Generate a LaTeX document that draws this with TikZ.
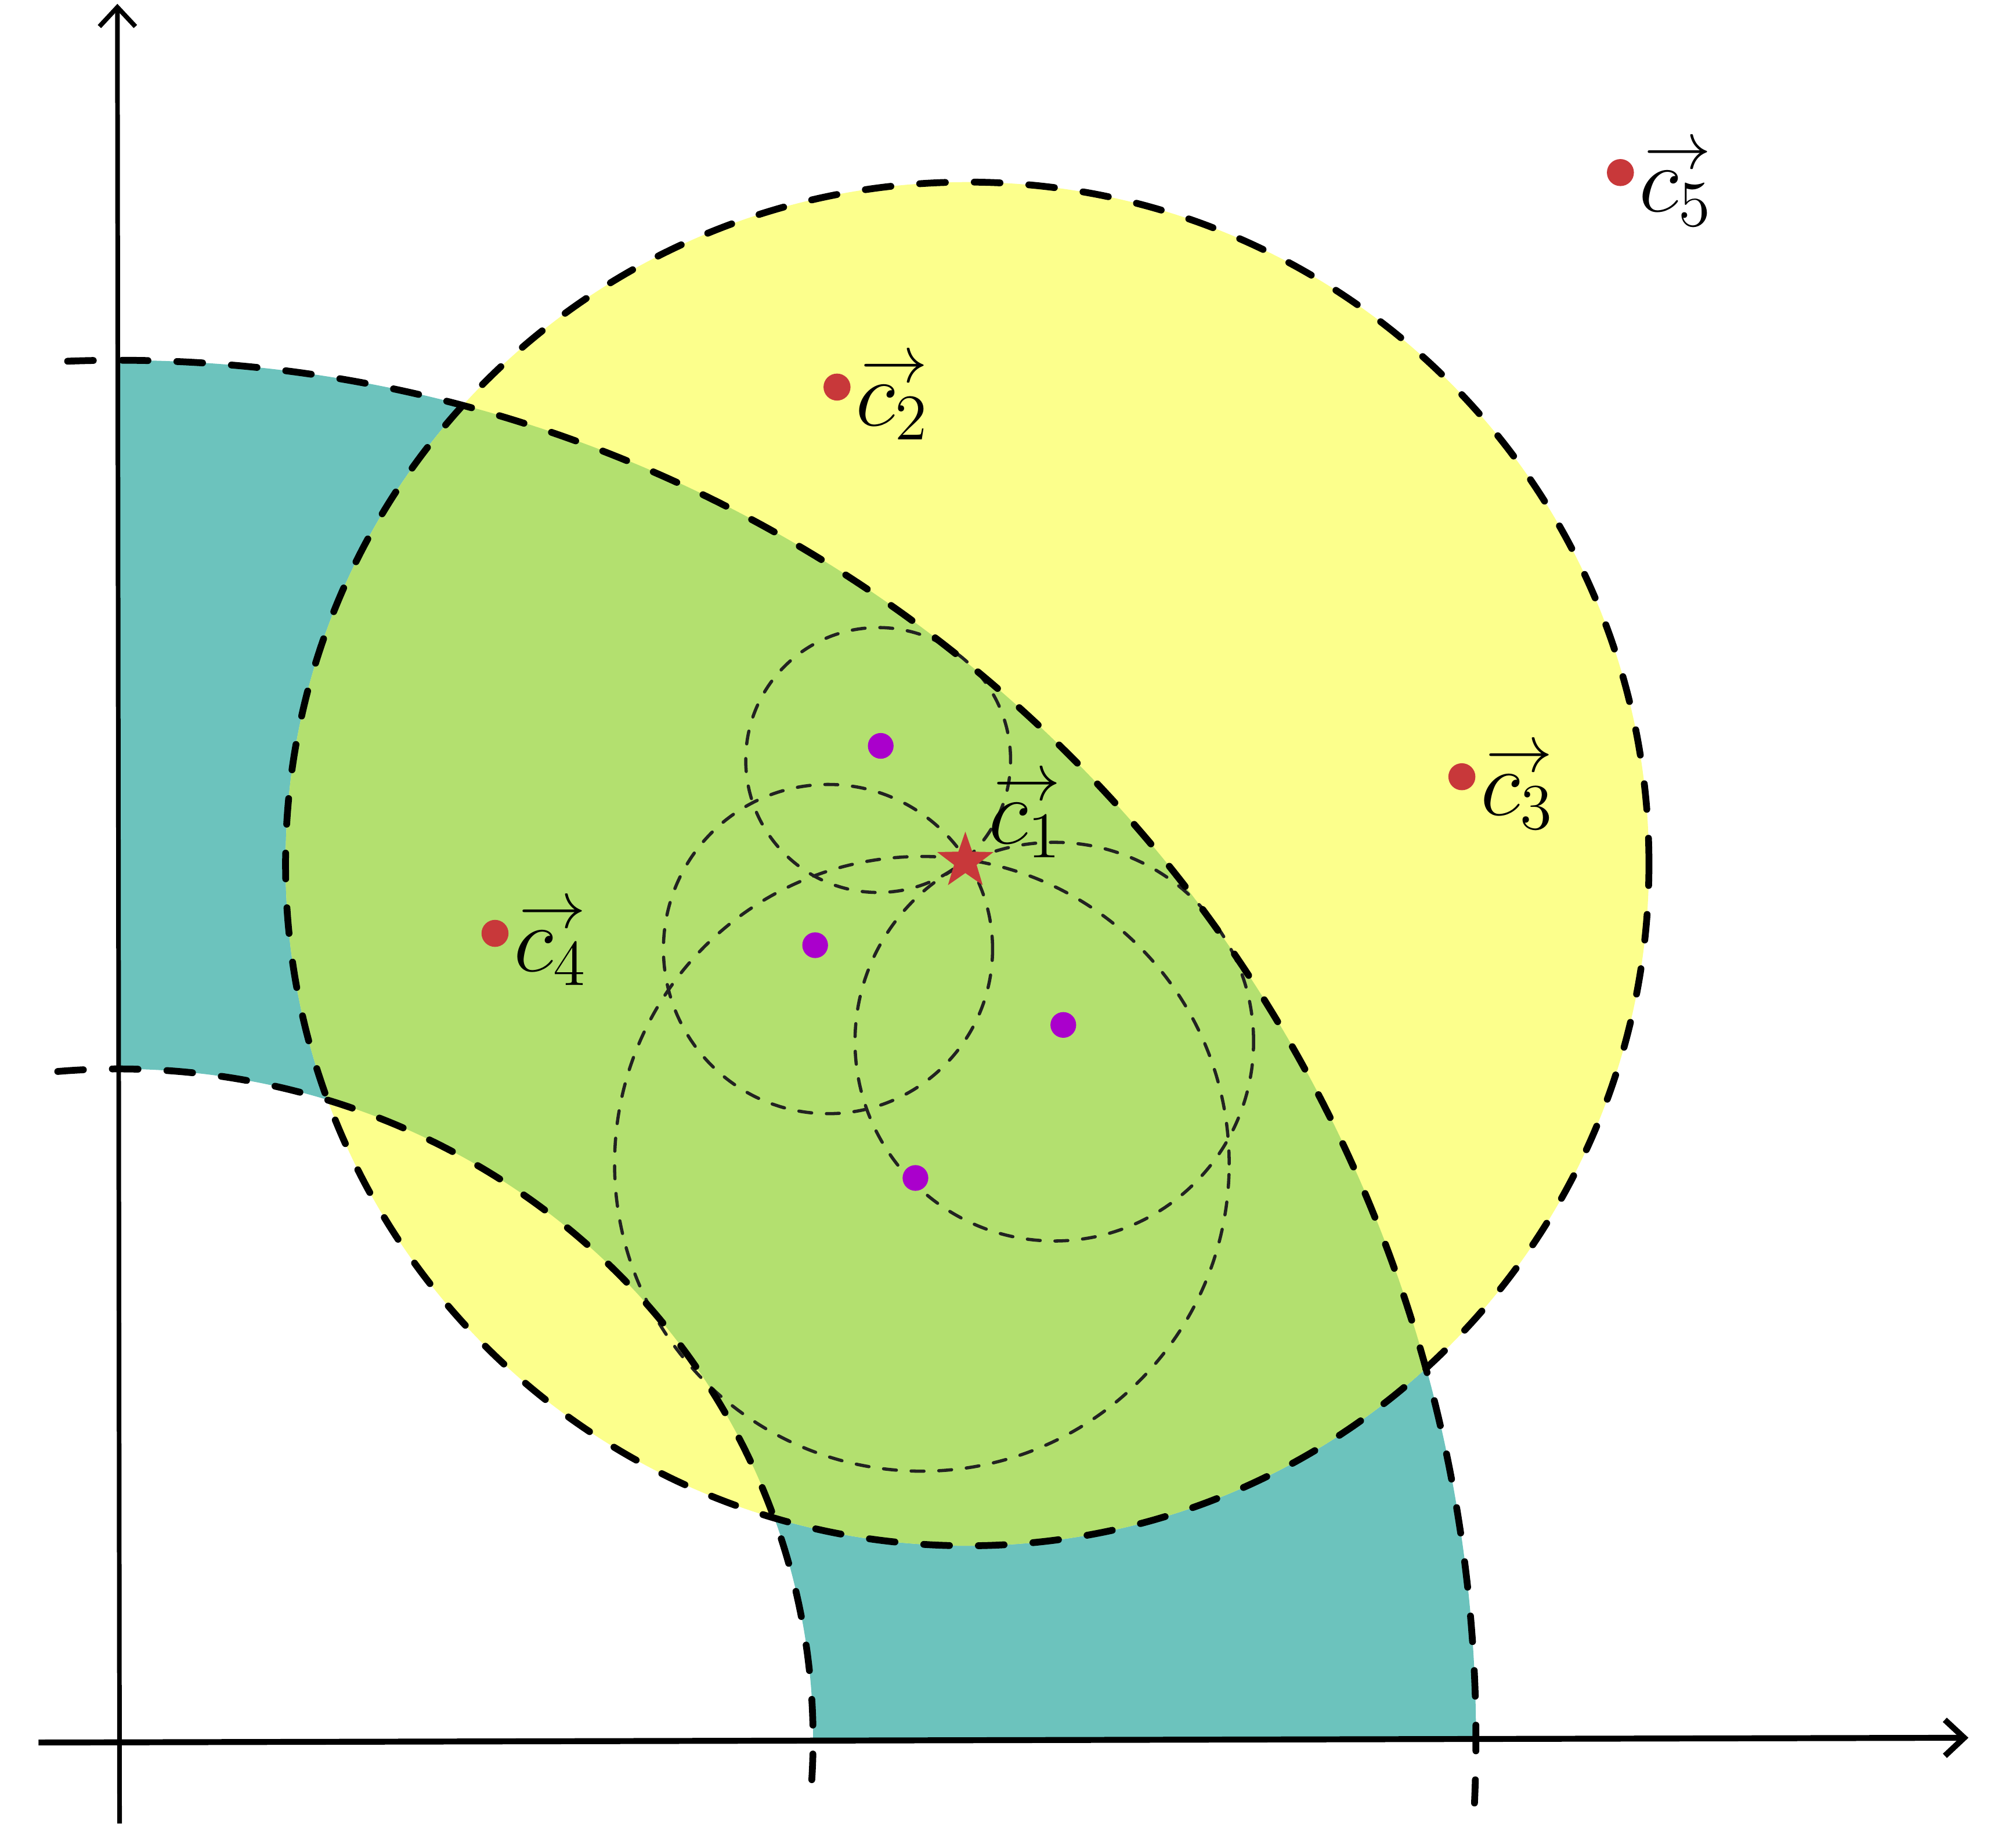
\documentclass[tikz,border=0pt]{standalone}
\usepackage{graphicx}
\usetikzlibrary{arrows.meta,shapes.geometric,calc}
\definecolor{tealc}{RGB}{108,195,189}
\definecolor{yelc}{RGB}{252,255,140}
\definecolor{grnc}{RGB}{179,224,111}
\definecolor{dotred}{RGB}{200,56,58}
\definecolor{dotpurple}{RGB}{170,0,204}
\definecolor{dgray}{RGB}{34,34,34}
\newcommand\cvec[1]{\rlap{\kern1.1pt\raisebox{9.6pt}{\resizebox{0.52cm}{!}{$\rightarrow$}}}$c_{#1}$}
\begin{document}
\begin{tikzpicture}[
  thickdash/.style={line width=0.053cm, line cap=round, dash pattern=on 0.2cm off 0.225cm},
  thindash/.style={draw=dgray, line width=0.025cm, line cap=round, dash pattern=on 0.1cm off 0.115cm},
  reddot/.style={circle, fill=dotred, inner sep=0pt, minimum size=0.21cm},
  purpledot/.style={circle, fill=dotpurple, inner sep=0pt, minimum size=0.2cm},
  lbl/.style={inner sep=0pt, anchor=base west, font=\huge},
  axisarrow/.style={-{Straight Barb[length=0.15cm,width=0.28cm,sharp]}}
]
\useasboundingbox (0,0) rectangle (15.68,14.25);
\coordinate (O) at (0.92,0.725);
\coordinate (Yc) at (7.523,7.532);

% annulus (teal)
\fill[tealc] (O) ++(0,10.724) arc[start angle=90,end angle=0,x radius=10.56,y radius=10.724]
  -- ($(O)+(5.404,0)$) arc[start angle=0,end angle=90,x radius=5.404,y radius=5.213] -- cycle;
% yellow disc
\fill[yelc] (Yc) circle[radius=5.302];
% overlap (green)
\begin{scope}
  \clip (Yc) circle[radius=5.302];
  \fill[grnc] (O) ++(0,10.724) arc[start angle=90,end angle=0,x radius=10.56,y radius=10.724]
    -- ($(O)+(5.404,0)$) arc[start angle=0,end angle=90,x radius=5.404,y radius=5.213] -- cycle;
\end{scope}

% small dashed circles
\coordinate (k1) at (6.83,8.34);
\coordinate (k2) at (6.44,6.87);
\coordinate (k3) at (8.20,6.15);
\coordinate (k4) at (7.17,5.20);
\draw[thindash] (k1) circle[radius=1.03];
\draw[thindash] (k2) circle[radius=1.28];
\draw[thindash] (k3) circle[radius=1.55];
\draw[thindash] (k4) circle[radius=2.39];

% thick dashed boundaries
\draw[thickdash] (O) ++(92.14:10.56 and 10.724) arc[start angle=92.14,end angle=-2.65,x radius=10.56,y radius=10.724];
\draw[thickdash] (O) ++(95:5.404 and 5.213) arc[start angle=95,end angle=-4.39,x radius=5.404,y radius=5.213];
\draw[thickdash] (Yc) circle[radius=5.302];

% axes
\coordinate (yb) at (0.93,0.07);
\coordinate (yt) at (0.913,14.22);
\coordinate (xl) at (0.30,0.70);
\coordinate (xr) at (15.31,0.737);
\draw[line width=0.036cm, axisarrow] (yb) -- (yt);
\draw[line width=0.046cm, axisarrow] (xl) -- (xr);

% purple dots
\node[purpledot] (p1) at (6.85,8.45) {};
\node[purpledot] (p2) at (6.34,6.90) {};
\node[purpledot] (p3) at (8.27,6.28) {};
\node[purpledot] (p4) at (7.12,5.09) {};

% red points
\node[star, star points=5, star point ratio=2.5, fill=dotred, inner sep=0pt, minimum size=0.46cm] (c1) at (7.508,7.553) {};
\node[reddot] (c2) at (6.51,11.24) {};
\node[reddot] (c3) at (11.37,8.21) {};
\node[reddot] (c4) at (3.85,6.992) {};
\node[reddot] (c5) at (12.603,12.908) {};

% labels
\node[lbl] (l1) at ($(c1)+(0.175,0.137)$) {\cvec{1}};
\node[lbl] (l2) at ($(c2)+(0.14,-0.30)$) {\cvec{2}};
\node[lbl] (l3) at ($(c3)+(0.14,-0.30)$) {\cvec{3}};
\node[lbl] (l4) at ($(c4)+(0.14,-0.295)$) {\cvec{4}};
\node[lbl] (l5) at ($(c5)+(0.14,-0.305)$) {\cvec{5}};
\end{tikzpicture}
\end{document}
